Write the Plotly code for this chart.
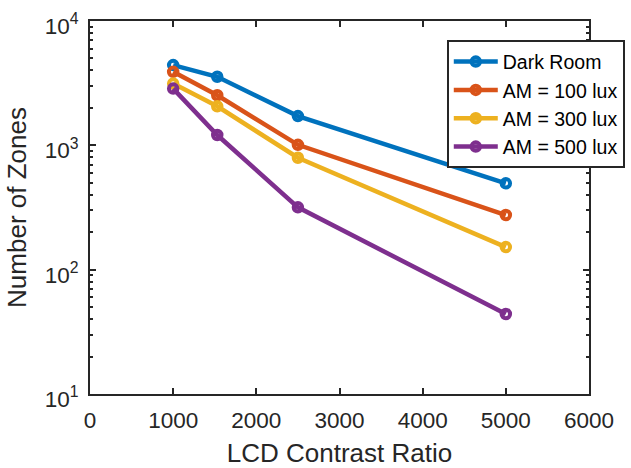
import plotly.graph_objects as go

# LCD contrast ratio vs. number of local-dimming zones
contrast_ratio = [1000, 1530, 2500, 5000]

dark_room = [4420, 3560, 1720, 495]
am_100 = [3900, 2530, 1010, 275]
am_300 = [3140, 2060, 795, 152]
am_500 = [2860, 1210, 317, 44]

series_names = ["Dark Room", "AM = 100 lux", "AM = 300 lux", "AM = 500 lux"]
series_colors = ["#0072BD", "#D95319", "#EDB120", "#7E2F8E"]
series_values = [dark_room, am_100, am_300, am_500]

x_ticks = [0, 1000, 2000, 3000, 4000, 5000, 6000]
y_ticks = [10, 100, 1000, 10000]
y_tick_text = ["10<sup>1</sup>", "10<sup>2</sup>", "10<sup>3</sup>", "10<sup>4</sup>"]
y_minor = [m * 10 ** k for k in (1, 2, 3) for m in range(2, 10)]

ink = "#262626"
font_family = "Liberation Sans, Arial, sans-serif"

fig = go.Figure()
for name, color, vals in zip(series_names, series_colors, series_values):
    fig.add_trace(go.Scatter(
        x=contrast_ratio, y=vals, name=name, mode="lines+markers",
        line=dict(color=color, width=4.5),
        marker=dict(symbol="circle-open", size=8.5, color=color,
                    line=dict(color=color, width=4)),
    ))

axis_common = dict(
    showline=True, linecolor=ink, linewidth=2, mirror="ticks",
    ticks="inside", ticklen=6, tickwidth=1.5, tickcolor=ink,
    showgrid=False, zeroline=False,
)

fig.update_xaxes(
    range=[0, 6000], tickvals=x_ticks, ticktext=[str(v) for v in x_ticks],
    tickfont=dict(family=font_family, size=22.5, color=ink),
    ticklabelstandoff=5,
    title=dict(text="LCD Contrast Ratio", standoff=13,
               font=dict(family=font_family, size=26, color=ink)),
    **axis_common,
)
fig.update_yaxes(
    type="log", range=[1, 4], tickvals=y_ticks, ticktext=y_tick_text,
    tickfont=dict(family=font_family, size=22.5, color=ink),
    ticklabelstandoff=5, ticklabelshift=5,
    minor=dict(tickvals=y_minor, ticks="inside", ticklen=3, tickwidth=1.5,
               tickcolor=ink, showgrid=False),
    title=dict(text="Number of Zones", standoff=11,
               font=dict(family=font_family, size=26, color=ink)),
    **axis_common,
)

fig.update_layout(
    width=631, height=468,
    margin=dict(l=90, r=42, t=21, b=74, autoexpand=False),
    plot_bgcolor="white", paper_bgcolor="white",
    font=dict(family=font_family, color=ink),
    legend=dict(
        x=0.715, y=0.948, xanchor="left", yanchor="top",
        bgcolor="white", bordercolor=ink, borderwidth=2,
        font=dict(family=font_family, size=19.5, color="#000000"),
        itemwidth=44, tracegroupgap=0,
    ),
)

fig.write_html("out.html")
